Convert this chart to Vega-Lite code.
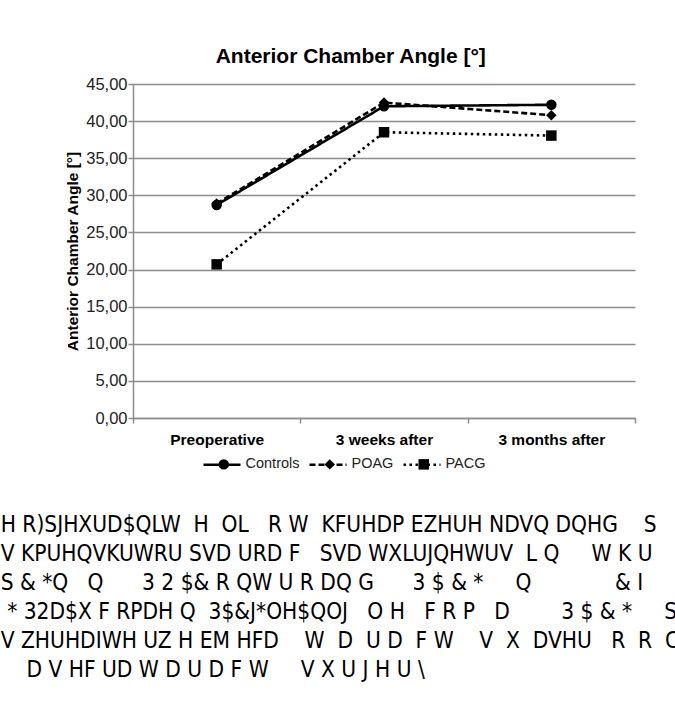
{
  "$schema": "https://vega.github.io/schema/vega-lite/v6.json",
  "padding": {"left": 0, "top": 46, "right": 0, "bottom": 5},
  "background": "white",
  "title": {
    "text": [
      "H R)SJHXUD$QLW\u00a0 H\u00a0 OL\u00a0\u00a0 R W\u00a0 KFUHDP EZHUH NDVQ DQHG\u00a0\u00a0\u00a0 S",
      "V KPUHQVKUWRU SVD URD F\u00a0\u00a0 SVD WXLUJQHWUV\u00a0 L Q\u00a0\u00a0\u00a0\u00a0 W K U",
      "S & *Q\u00a0\u00a0 Q\u00a0\u00a0\u00a0\u00a0\u00a0 3 2 $& R QW U R DQ G\u00a0\u00a0\u00a0\u00a0\u00a0 3 $ & *\u00a0\u00a0\u00a0\u00a0 Q\u00a0\u00a0\u00a0\u00a0\u00a0\u00a0\u00a0\u00a0\u00a0\u00a0\u00a0\u00a0 & I",
      "\u200b\u00a0* 32D$X F RPDH Q\u00a0 3$&J*OH$QOJ\u00a0\u00a0 O H\u00a0\u00a0 F R P\u00a0\u00a0 D\u00a0\u00a0\u00a0\u00a0\u00a0\u00a0\u00a0 3 $ & *\u00a0\u00a0\u00a0\u00a0 S",
      "V ZHUHDIWH UZ H EM HFD\u00a0\u00a0\u00a0 W\u00a0 D\u00a0 U D\u00a0 F W\u00a0\u00a0\u00a0 V\u00a0 X\u00a0 DVHU\u00a0\u00a0 R\u00a0 R\u00a0 C",
      "\u200b\u00a0\u00a0\u00a0\u00a0D V HF UD W D U D F W\u00a0\u00a0\u00a0\u00a0 V X U J H U \\"
    ],
    "orient": "bottom",
    "anchor": "start",
    "dx": -65,
    "offset": 42,
    "font": "DejaVu Sans Condensed, Liberation Sans",
    "fontSize": 22.5,
    "fontWeight": "normal",
    "lineHeight": 29,
    "color": "#000000"
  },
  "vconcat": [
    {
      "title": {
        "text": "Anterior Chamber Angle [°]",
        "font": "Liberation Sans",
        "fontSize": 21,
        "fontWeight": "bold",
        "color": "#000000",
        "anchor": "middle",
        "frame": "bounds",
        "offset": 9
      },
      "width": 502,
      "height": 334,
      "data": {
        "values": [
          {"group": "Controls", "time": "Preoperative", "angle": 28.7},
          {"group": "Controls", "time": "3 weeks after", "angle": 42.0},
          {"group": "Controls", "time": "3 months after", "angle": 42.2},
          {"group": "POAG", "time": "Preoperative", "angle": 28.9},
          {"group": "POAG", "time": "3 weeks after", "angle": 42.5},
          {"group": "POAG", "time": "3 months after", "angle": 40.8},
          {"group": "PACG", "time": "Preoperative", "angle": 20.7},
          {"group": "PACG", "time": "3 weeks after", "angle": 38.5},
          {"group": "PACG", "time": "3 months after", "angle": 38.05}
        ]
      },
      "encoding": {
        "x": {
          "field": "time",
          "type": "ordinal",
          "sort": ["Preoperative", "3 weeks after", "3 months after"],
          "scale": {"type": "band", "paddingInner": 0, "paddingOuter": 0},
          "axis": {
            "title": null,
            "labelAngle": 0,
            "labelFont": "Liberation Sans",
            "labelFontSize": 15.5,
            "labelFontWeight": "bold",
            "labelColor": "#000000",
            "labelPadding": 9,
            "tickBand": "extent",
            "tickSize": 5,
            "tickColor": "#8c8c8c",
            "tickWidth": 1.5,
            "domainColor": "#8c8c8c",
            "domainWidth": 1.5,
            "grid": false
          }
        },
        "y": {
          "field": "angle",
          "type": "quantitative",
          "scale": {"domain": [0, 45], "nice": false, "zero": true},
          "axis": {
            "title": "Anterior Chamber Angle [°]",
            "titleFont": "Liberation Sans",
            "titleFontSize": 15.5,
            "titleFontWeight": "bold",
            "titleColor": "#000000",
            "titlePadding": 5,
            "values": [0, 5, 10, 15, 20, 25, 30, 35, 40, 45],
            "labelExpr": "replace(format(datum.value, '.2f'), '.', ',')",
            "labelFont": "Liberation Sans",
            "labelFontSize": 16.5,
            "labelColor": "#222222",
            "labelPadding": 1,
            "tickSize": 5,
            "tickColor": "#8c8c8c",
            "tickWidth": 1.5,
            "domainColor": "#8c8c8c",
            "domainWidth": 1.5,
            "grid": true,
            "gridColor": "#8c8c8c",
            "gridWidth": 1.5
          }
        }
      },
      "layer": [
        {
          "mark": {"type": "line", "color": "#000000", "strokeWidth": 2.6},
          "encoding": {
            "detail": {"field": "group"},
            "strokeDash": {
              "field": "group",
              "type": "nominal",
              "sort": ["Controls", "POAG", "PACG"],
              "scale": {"range": [[1, 0], [6, 3], [2.5, 3.5]]},
              "legend": {
                "title": null,
                "orient": "none",
                "legendX": 69,
                "legendY": 360.5,
                "direction": "horizontal",
                "symbolType": "stroke",
                "symbolSize": 1369,
                "symbolStrokeWidth": 2.6,
                "symbolStrokeColor": "#000000",
                "symbolOffset": 0,
                "labelOffset": 0,
                "labelOpacity": 0,
                "labelFont": "Liberation Sans",
                "labelFontSize": 14.5,
                "columnPadding": 8
              }
            }
          }
        },
        {
          "mark": {"type": "point", "filled": true, "color": "#000000", "opacity": 1, "size": 110},
          "encoding": {
            "shape": {
              "field": "group",
              "type": "nominal",
              "scale": {"domain": ["Controls", "POAG", "PACG"], "range": ["circle", "diamond", "square"]},
              "legend": {
                "title": null,
                "orient": "none",
                "legendX": 69,
                "legendY": 373,
                "direction": "horizontal",
                "symbolSize": 110,
                "symbolStrokeWidth": 0,
                "symbolFillColor": "#000000",
                "symbolOffset": 14.5,
                "labelOffset": 14.5,
                "labelFont": "Liberation Sans",
                "labelFontSize": 14.5,
                "labelColor": "#222222",
                "columnPadding": 8
              }
            }
          }
        }
      ]
    }
  ],
  "config": {
    "view": {"stroke": null},
    "font": "Liberation Sans"
  }
}
